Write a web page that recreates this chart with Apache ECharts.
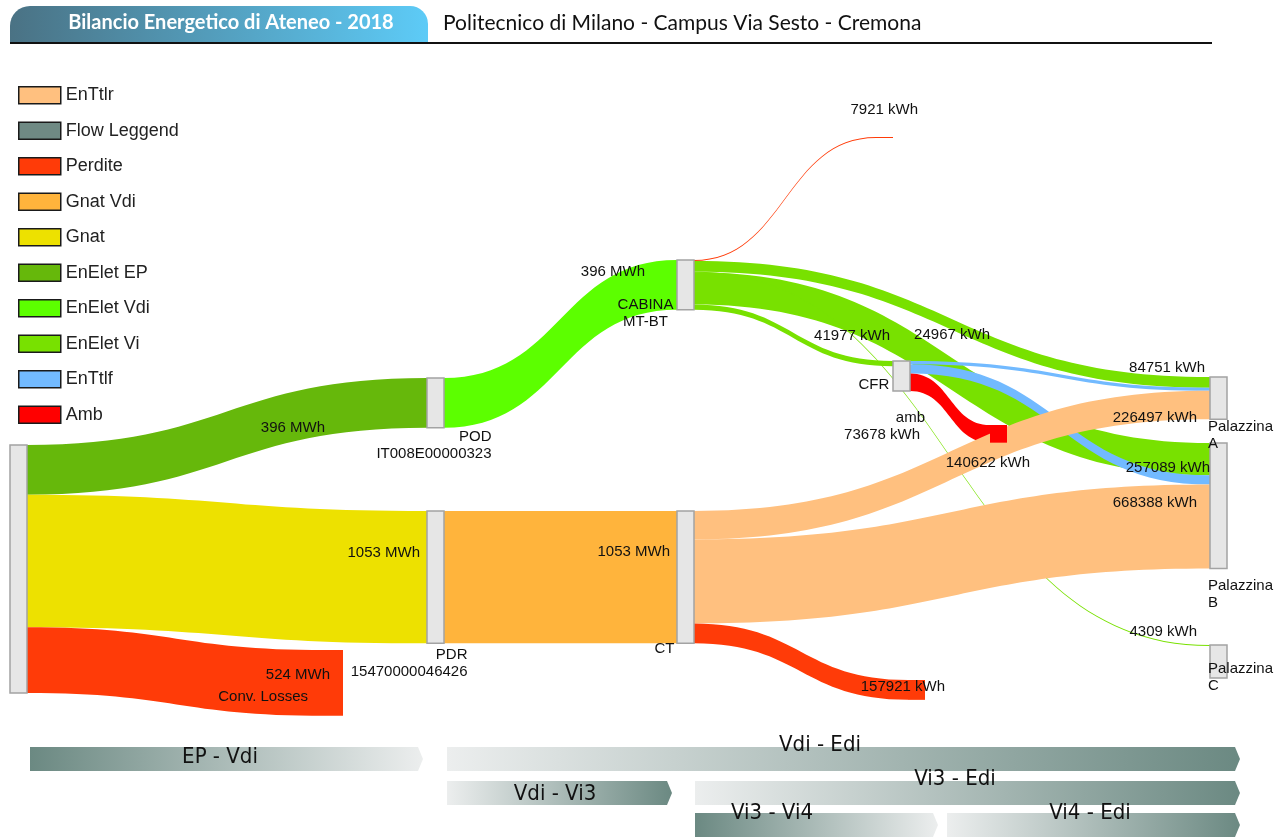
<!DOCTYPE html>
<html><head><meta charset="utf-8">
<script src="https://cdn.jsdelivr.net/npm/echarts@6/dist/echarts.min.js"></script>
<style>html,body{margin:0;padding:0;background:#fff}#c{width:1285px;height:837px}</style>
</head><body><div id="c"></div>
<script>
// ---------------- DATA ----------------
const TITLE = 'Bilancio Energetico di Ateneo - 2018';
const SUBTITLE = 'Politecnico di Milano - Campus Via Sesto - Cremona';

const FLOW_TYPES = ['EnTtlr', 'Flow Leggend', 'Perdite', 'Gnat Vdi', 'Gnat', 'EnElet EP', 'EnElet Vdi', 'EnElet Vi', 'EnTtlf', 'Amb'];

const NODE_NAMES = ['Ateneo', 'POD', 'PDR', 'Conv. Losses', 'CABINA', 'CT', 'Perdite Cabina', 'Palazzina C', 'CFR', 'Perdite CT', 'Palazzina A', 'Palazzina B', 'amb'];
const NODE_LABELS = ['', 'POD\nIT008E00000323', 'PDR\n15470000046426', 'Conv. Losses', 'CABINA\nMT-BT', 'CT', '', 'Palazzina\nC', 'CFR', '', 'Palazzina\nA', 'Palazzina\nB', 'amb'];

const LINK_SOURCE = ['Ateneo', 'Ateneo', 'Ateneo', 'POD', 'PDR', 'CABINA', 'CABINA', 'CABINA', 'CABINA', 'CABINA', 'CFR', 'CFR', 'CFR', 'CT', 'CT', 'CT'];
const LINK_TARGET = ['POD', 'PDR', 'Conv. Losses', 'CABINA', 'CT', 'Perdite Cabina', 'Palazzina A', 'Palazzina B', 'CFR', 'Palazzina C', 'Palazzina A', 'Palazzina B', 'amb', 'Palazzina A', 'Palazzina B', 'Perdite CT'];
const LINK_VALUE_KWH = [396000, 1053000, 524000, 396000, 1053000, 7921, 84751, 257089, 41977, 4309, 24967, 73678, 140622, 226497, 668388, 157921];
const LINK_UNIT = ['MWh', 'MWh', 'MWh', 'MWh', 'MWh', 'kWh', 'kWh', 'kWh', 'kWh', 'kWh', 'kWh', 'kWh', 'kWh', 'kWh', 'kWh', 'kWh'];
const LINK_TYPE = ['EnElet EP', 'Gnat', 'Perdite', 'EnElet Vdi', 'Gnat Vdi', 'Perdite', 'EnElet Vi', 'EnElet Vi', 'EnElet Vi', 'EnElet Vi', 'EnTtlf', 'EnTtlf', 'Amb', 'EnTtlr', 'EnTtlr', 'Perdite'];

const STAGES = ['EP - Vdi', 'Vdi - Edi', 'Vdi - Vi3', 'Vi3 - Edi', 'Vi3 - Vi4', 'Vi4 - Edi'];

// ---------------- STYLE / LAYOUT ----------------
const FLOW_COLORS = {
  'EnTtlr': '#ffc07f', 'Flow Leggend': '#6f8a84', 'Perdite': '#ff3b08', 'Gnat Vdi': '#ffb43c',
  'Gnat': '#ede100', 'EnElet EP': '#66b80b', 'EnElet Vdi': '#5cff00', 'EnElet Vi': '#78e100',
  'EnTtlf': '#72baff', 'Amb': '#ff0000'
};
const FONT = '"Liberation Sans", Arial, sans-serif';
const W = 1285, GAP = 10, SRC_PX = 248;
const H = SRC_PX + 2 * GAP;
const NODE_W = 17, MIN_NODE_PX = 33;

// top-left pixel position of each node, and its layout column
const NODE_LAYOUT = {
  'Ateneo': { pos: [10, 445], depth: 0 },
  'POD': { pos: [427, 378], depth: 1, label: { position: 'bottom', distance: 2, align: 'right', offset: [56, -2] } },
  'PDR': { pos: [427, 511], depth: 1, label: { position: 'bottom', distance: 2, align: 'right', offset: [32, 0] } },
  'Conv. Losses': { pos: [326, 650], depth: 1, fill: 'Perdite', label: { position: 'left', distance: 5, align: 'right', offset: [-13, 14] } },
  'CABINA': { pos: [677, 260], depth: 2, label: { position: 'bottom', distance: 2, align: 'center', offset: [-40, -16] } },
  'CT': { pos: [677, 511], depth: 2, label: { position: 'bottom', distance: 2, align: 'center', offset: [-21, -6] } },
  'Perdite Cabina': { pos: [876, 137], depth: 3, fill: 'Perdite' },
  'Palazzina C': { pos: [1210, 645], depth: 3, minPx: MIN_NODE_PX, label: { position: 'bottom', distance: 2, align: 'left', offset: [-10.5, -20] } },
  'CFR': { pos: [893, 361], depth: 3, label: { position: 'left', distance: 5, align: 'right', offset: [2, 9] } },
  'Perdite CT': { pos: [908, 680], depth: 3, fill: 'Perdite' },
  'Palazzina A': { pos: [1210, 377], depth: 4, label: { position: 'bottom', distance: 2, align: 'left', offset: [-10.5, -4] } },
  'Palazzina B': { pos: [1210, 443], depth: 4, label: { position: 'bottom', distance: 2, align: 'left', offset: [-10.5, 6] } },
  'amb': { pos: [990, 425], depth: 4, fill: 'Amb', label: { position: 'left', distance: 5, align: 'right', offset: [-60, -16] } }
};
// value label anchor (right edge x, middle y) for each link
const VALUE_LABEL_POS = [
  [325, 428], [420, 553], [330, 675], [645, 272], [670, 552], [918, 110], [1205, 368], [1210, 468],
  [890, 336], [1197, 632], [990, 335], [920, 435], [1030, 463], [1197, 418], [1197, 503], [945, 687]
];
// stage bars: [x0, x1, y0, textX, textY, darkSide]
const STAGE_LAYOUT = [
  [30, 423, 747, 220, 757, 'left'], [447, 1240, 747, 820, 745, 'right'], [447, 672, 781, 555, 794, 'right'],
  [695, 1240, 781, 955, 779, 'right'], [695, 938, 813, 772, 813, 'left'], [947, 1240, 813, 1090, 813, 'right']
];

// ---------------- BUILD ----------------
const srcTotal = LINK_VALUE_KWH.filter((v, i) => LINK_SOURCE[i] === NODE_NAMES[0]).reduce((a, b) => a + b, 0);
const KY = SRC_PX / srcTotal;

function fmt(i) {
  const v = LINK_VALUE_KWH[i];
  return LINK_UNIT[i] === 'MWh' ? Math.round(v / 1000) + ' MWh' : v + ' kWh';
}

const nodes = NODE_NAMES.map((name, i) => {
  const L = NODE_LAYOUT[name];
  const item = {
    name: name,
    depth: L.depth,
    localX: L.pos[0] / W,
    localY: L.pos[1] / H
  };
  if (L.minPx) item.value = L.minPx / KY;
  if (L.fill) item.itemStyle = { color: FLOW_COLORS[L.fill], borderWidth: 0 };
  if (L.label && NODE_LABELS[i]) {
    item.label = Object.assign({ show: true, formatter: NODE_LABELS[i] }, L.label);
  } else {
    item.label = { show: false };
  }
  return item;
});

const links = LINK_SOURCE.map((s, i) => ({
  source: s,
  target: LINK_TARGET[i],
  value: LINK_VALUE_KWH[i],
  lineStyle: { color: FLOW_COLORS[LINK_TYPE[i]] }
}));

const graphics = [];
// title tab
graphics.push({
  type: 'rect', shape: { x: 10, y: 6, width: 418, height: 36, r: [20, 18, 0, 0] },
  style: { fill: { type: 'linear', x: 0, y: 0, x2: 1, y2: 0, colorStops: [{ offset: 0, color: '#4a7284' }, { offset: 1, color: '#5dcbf7' }] } },
  z: 10
});
graphics.push({ type: 'text', x: 231, y: 23, style: { text: TITLE, fill: '#fff', fontSize: 20, fontWeight: 'bold', fontFamily: 'Lato, "Open Sans", sans-serif', align: 'center', verticalAlign: 'middle' }, z: 11 });
graphics.push({ type: 'text', x: 443, y: 23, style: { text: SUBTITLE, fill: '#111', fontSize: 21, fontFamily: 'Lato, "Open Sans", sans-serif', align: 'left', verticalAlign: 'middle' }, z: 11 });
graphics.push({ type: 'line', shape: { x1: 10, y1: 43, x2: 1212, y2: 43 }, style: { stroke: '#111', lineWidth: 2 }, z: 11 });

// stage bars
STAGES.forEach((name, i) => {
  const [x0, x1, y0, tx, ty, dark] = STAGE_LAYOUT[i];
  const h = 24, tip = 5;
  const darkC = '#6b8982', lightC = '#eceeee';
  graphics.push({
    type: 'polygon',
    shape: { points: [[x0, y0], [x1 - tip, y0], [x1, y0 + h / 2], [x1 - tip, y0 + h], [x0, y0 + h]] },
    style: { fill: { type: 'linear', x: 0, y: 0, x2: 1, y2: 0, colorStops: dark === 'left' ? [{ offset: 0, color: darkC }, { offset: 1, color: lightC }] : [{ offset: 0, color: lightC }, { offset: 1, color: darkC }] } },
    z: 10
  });
  graphics.push({ type: 'text', x: tx, y: ty, style: { text: name, fill: '#111', fontSize: 22, fontFamily: '"Liberation Sans Narrow", "DejaVu Sans Condensed", sans-serif', align: 'center', verticalAlign: 'middle' }, z: 11 });
});

// value labels
LINK_VALUE_KWH.forEach((v, i) => {
  const [x, y] = VALUE_LABEL_POS[i];
  graphics.push({ type: 'text', x: x, y: y, style: { text: fmt(i), fill: '#111', fontSize: 15, fontFamily: FONT, align: 'right', verticalAlign: 'middle' }, z: 100 });
});

const legendSeries = FLOW_TYPES.map(t => ({
  type: 'bar', name: t, data: [], color: FLOW_COLORS[t], itemStyle: { color: FLOW_COLORS[t] }
}));

const chart = echarts.init(document.getElementById('c'), null, { renderer: 'canvas' });
chart.setOption({
  animation: false,
  backgroundColor: '#fff',
  grid: { left: -200, top: -200, width: 10, height: 10, show: false },
  xAxis: { type: 'category', show: false },
  yAxis: { type: 'value', show: false },
  legend: {
    data: FLOW_TYPES, orient: 'vertical', left: 13, top: 81, icon: 'rect',
    itemWidth: 42, itemHeight: 17, itemGap: 17, selectedMode: false,
    itemStyle: { borderColor: '#1a1a1a', borderWidth: 1.5 },
    textStyle: { fontSize: 18, color: '#222', fontFamily: FONT }
  },
  graphic: graphics,
  series: legendSeries.concat([{
    type: 'sankey',
    left: 0, top: 0, width: W, height: H,
    nodeWidth: NODE_W, nodeGap: GAP, nodeAlign: 'left', layoutIterations: 0,
    draggable: false,
    emphasis: { disabled: true },
    itemStyle: { color: '#e6e6e6', borderColor: '#a3a3a3', borderWidth: 1.5 },
    lineStyle: { opacity: 1, curveness: 0.5 },
    label: { fontSize: 15, lineHeight: 17, color: '#111', fontFamily: FONT },
    data: nodes,
    links: links
  }])
});
</script></body></html>
